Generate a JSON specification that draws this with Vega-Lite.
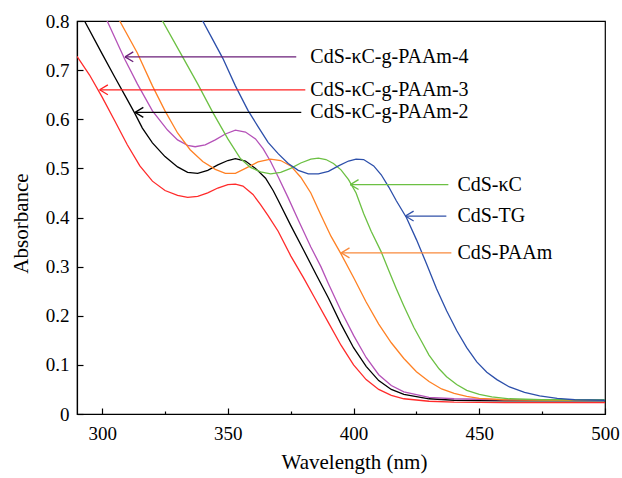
{
  "$schema": "https://vega.github.io/schema/vega-lite/v6.json",
  "width": 528,
  "height": 393,
  "autosize": {"type": "none"},
  "padding": {"left": 77, "top": 21, "right": 17, "bottom": 64},
  "background": "white",
  "config": {
    "view": {"stroke": "black", "strokeWidth": 1.2},
    "font": "'Liberation Serif', 'DejaVu Serif', serif",
    "axis": {
      "grid": false,
      "domainColor": "black",
      "domainWidth": 1.2,
      "tickColor": "black",
      "tickWidth": 1.2,
      "labelFont": "'Liberation Serif', 'DejaVu Serif', serif",
      "labelFontSize": 19,
      "labelColor": "black",
      "titleFont": "'Liberation Serif', 'DejaVu Serif', serif",
      "titleFontSize": 21,
      "titleFontWeight": "normal",
      "titleColor": "black"
    },
    "text": {"font": "'Liberation Serif', 'DejaVu Serif', serif"}
  },
  "datasets": {
    "curves": [
      {"s": "CdS-κC-g-PAAm-3", "wl": 290, "a": 0.728},
      {"s": "CdS-κC-g-PAAm-3", "wl": 295, "a": 0.690},
      {"s": "CdS-κC-g-PAAm-3", "wl": 300, "a": 0.645},
      {"s": "CdS-κC-g-PAAm-3", "wl": 305, "a": 0.597},
      {"s": "CdS-κC-g-PAAm-3", "wl": 310, "a": 0.548},
      {"s": "CdS-κC-g-PAAm-3", "wl": 315, "a": 0.505},
      {"s": "CdS-κC-g-PAAm-3", "wl": 320, "a": 0.474},
      {"s": "CdS-κC-g-PAAm-3", "wl": 325, "a": 0.455},
      {"s": "CdS-κC-g-PAAm-3", "wl": 330, "a": 0.445},
      {"s": "CdS-κC-g-PAAm-3", "wl": 334, "a": 0.441},
      {"s": "CdS-κC-g-PAAm-3", "wl": 338, "a": 0.443},
      {"s": "CdS-κC-g-PAAm-3", "wl": 342, "a": 0.450},
      {"s": "CdS-κC-g-PAAm-3", "wl": 346, "a": 0.460},
      {"s": "CdS-κC-g-PAAm-3", "wl": 350, "a": 0.467},
      {"s": "CdS-κC-g-PAAm-3", "wl": 353, "a": 0.468},
      {"s": "CdS-κC-g-PAAm-3", "wl": 356, "a": 0.464},
      {"s": "CdS-κC-g-PAAm-3", "wl": 360, "a": 0.447},
      {"s": "CdS-κC-g-PAAm-3", "wl": 363, "a": 0.426},
      {"s": "CdS-κC-g-PAAm-3", "wl": 366, "a": 0.404},
      {"s": "CdS-κC-g-PAAm-3", "wl": 370, "a": 0.372},
      {"s": "CdS-κC-g-PAAm-3", "wl": 375, "a": 0.322},
      {"s": "CdS-κC-g-PAAm-3", "wl": 380, "a": 0.278},
      {"s": "CdS-κC-g-PAAm-3", "wl": 385, "a": 0.232},
      {"s": "CdS-κC-g-PAAm-3", "wl": 390, "a": 0.186},
      {"s": "CdS-κC-g-PAAm-3", "wl": 395, "a": 0.140},
      {"s": "CdS-κC-g-PAAm-3", "wl": 400, "a": 0.100},
      {"s": "CdS-κC-g-PAAm-3", "wl": 405, "a": 0.070},
      {"s": "CdS-κC-g-PAAm-3", "wl": 410, "a": 0.050},
      {"s": "CdS-κC-g-PAAm-3", "wl": 415, "a": 0.038},
      {"s": "CdS-κC-g-PAAm-3", "wl": 420, "a": 0.031},
      {"s": "CdS-κC-g-PAAm-3", "wl": 430, "a": 0.026},
      {"s": "CdS-κC-g-PAAm-3", "wl": 440, "a": 0.024},
      {"s": "CdS-κC-g-PAAm-3", "wl": 460, "a": 0.023},
      {"s": "CdS-κC-g-PAAm-3", "wl": 500, "a": 0.023},

      {"s": "CdS-κC-g-PAAm-2", "wl": 290, "a": 0.830},
      {"s": "CdS-κC-g-PAAm-2", "wl": 293, "a": 0.800},
      {"s": "CdS-κC-g-PAAm-2", "wl": 300, "a": 0.733},
      {"s": "CdS-κC-g-PAAm-2", "wl": 305, "a": 0.686},
      {"s": "CdS-κC-g-PAAm-2", "wl": 310, "a": 0.640},
      {"s": "CdS-κC-g-PAAm-2", "wl": 313, "a": 0.612},
      {"s": "CdS-κC-g-PAAm-2", "wl": 316, "a": 0.582},
      {"s": "CdS-κC-g-PAAm-2", "wl": 320, "a": 0.552},
      {"s": "CdS-κC-g-PAAm-2", "wl": 325, "a": 0.524},
      {"s": "CdS-κC-g-PAAm-2", "wl": 330, "a": 0.503},
      {"s": "CdS-κC-g-PAAm-2", "wl": 334, "a": 0.492},
      {"s": "CdS-κC-g-PAAm-2", "wl": 338, "a": 0.490},
      {"s": "CdS-κC-g-PAAm-2", "wl": 342, "a": 0.496},
      {"s": "CdS-κC-g-PAAm-2", "wl": 346, "a": 0.507},
      {"s": "CdS-κC-g-PAAm-2", "wl": 350, "a": 0.516},
      {"s": "CdS-κC-g-PAAm-2", "wl": 353, "a": 0.520},
      {"s": "CdS-κC-g-PAAm-2", "wl": 357, "a": 0.515},
      {"s": "CdS-κC-g-PAAm-2", "wl": 361, "a": 0.500},
      {"s": "CdS-κC-g-PAAm-2", "wl": 365, "a": 0.480},
      {"s": "CdS-κC-g-PAAm-2", "wl": 368, "a": 0.455},
      {"s": "CdS-κC-g-PAAm-2", "wl": 370, "a": 0.435},
      {"s": "CdS-κC-g-PAAm-2", "wl": 375, "a": 0.384},
      {"s": "CdS-κC-g-PAAm-2", "wl": 380, "a": 0.335},
      {"s": "CdS-κC-g-PAAm-2", "wl": 385, "a": 0.285},
      {"s": "CdS-κC-g-PAAm-2", "wl": 390, "a": 0.236},
      {"s": "CdS-κC-g-PAAm-2", "wl": 395, "a": 0.183},
      {"s": "CdS-κC-g-PAAm-2", "wl": 400, "a": 0.135},
      {"s": "CdS-κC-g-PAAm-2", "wl": 405, "a": 0.097},
      {"s": "CdS-κC-g-PAAm-2", "wl": 410, "a": 0.068},
      {"s": "CdS-κC-g-PAAm-2", "wl": 415, "a": 0.050},
      {"s": "CdS-κC-g-PAAm-2", "wl": 420, "a": 0.040},
      {"s": "CdS-κC-g-PAAm-2", "wl": 430, "a": 0.031},
      {"s": "CdS-κC-g-PAAm-2", "wl": 440, "a": 0.028},
      {"s": "CdS-κC-g-PAAm-2", "wl": 460, "a": 0.027},
      {"s": "CdS-κC-g-PAAm-2", "wl": 500, "a": 0.027},

      {"s": "CdS-κC-g-PAAm-4", "wl": 290, "a": 0.940},
      {"s": "CdS-κC-g-PAAm-4", "wl": 296, "a": 0.868},
      {"s": "CdS-κC-g-PAAm-4", "wl": 302, "a": 0.800},
      {"s": "CdS-κC-g-PAAm-4", "wl": 309, "a": 0.722},
      {"s": "CdS-κC-g-PAAm-4", "wl": 314, "a": 0.672},
      {"s": "CdS-κC-g-PAAm-4", "wl": 320, "a": 0.617},
      {"s": "CdS-κC-g-PAAm-4", "wl": 326, "a": 0.578},
      {"s": "CdS-κC-g-PAAm-4", "wl": 330, "a": 0.558},
      {"s": "CdS-κC-g-PAAm-4", "wl": 334, "a": 0.547},
      {"s": "CdS-κC-g-PAAm-4", "wl": 337, "a": 0.544},
      {"s": "CdS-κC-g-PAAm-4", "wl": 341, "a": 0.548},
      {"s": "CdS-κC-g-PAAm-4", "wl": 345, "a": 0.558},
      {"s": "CdS-κC-g-PAAm-4", "wl": 349, "a": 0.570},
      {"s": "CdS-κC-g-PAAm-4", "wl": 353, "a": 0.578},
      {"s": "CdS-κC-g-PAAm-4", "wl": 357, "a": 0.574},
      {"s": "CdS-κC-g-PAAm-4", "wl": 361, "a": 0.560},
      {"s": "CdS-κC-g-PAAm-4", "wl": 364, "a": 0.540},
      {"s": "CdS-κC-g-PAAm-4", "wl": 367, "a": 0.514},
      {"s": "CdS-κC-g-PAAm-4", "wl": 370, "a": 0.483},
      {"s": "CdS-κC-g-PAAm-4", "wl": 374, "a": 0.440},
      {"s": "CdS-κC-g-PAAm-4", "wl": 378, "a": 0.395},
      {"s": "CdS-κC-g-PAAm-4", "wl": 383, "a": 0.340},
      {"s": "CdS-κC-g-PAAm-4", "wl": 387, "a": 0.300},
      {"s": "CdS-κC-g-PAAm-4", "wl": 390, "a": 0.265},
      {"s": "CdS-κC-g-PAAm-4", "wl": 395, "a": 0.210},
      {"s": "CdS-κC-g-PAAm-4", "wl": 400, "a": 0.160},
      {"s": "CdS-κC-g-PAAm-4", "wl": 405, "a": 0.115},
      {"s": "CdS-κC-g-PAAm-4", "wl": 410, "a": 0.080},
      {"s": "CdS-κC-g-PAAm-4", "wl": 415, "a": 0.058},
      {"s": "CdS-κC-g-PAAm-4", "wl": 420, "a": 0.045},
      {"s": "CdS-κC-g-PAAm-4", "wl": 430, "a": 0.034},
      {"s": "CdS-κC-g-PAAm-4", "wl": 440, "a": 0.031},
      {"s": "CdS-κC-g-PAAm-4", "wl": 460, "a": 0.029},
      {"s": "CdS-κC-g-PAAm-4", "wl": 500, "a": 0.029},

      {"s": "CdS-PAAm", "wl": 290, "a": 0.990},
      {"s": "CdS-PAAm", "wl": 300, "a": 0.880},
      {"s": "CdS-PAAm", "wl": 307, "a": 0.800},
      {"s": "CdS-PAAm", "wl": 314, "a": 0.735},
      {"s": "CdS-PAAm", "wl": 320, "a": 0.668},
      {"s": "CdS-PAAm", "wl": 325, "a": 0.617},
      {"s": "CdS-PAAm", "wl": 330, "a": 0.572},
      {"s": "CdS-PAAm", "wl": 335, "a": 0.538},
      {"s": "CdS-PAAm", "wl": 340, "a": 0.514},
      {"s": "CdS-PAAm", "wl": 345, "a": 0.498},
      {"s": "CdS-PAAm", "wl": 349, "a": 0.490},
      {"s": "CdS-PAAm", "wl": 353, "a": 0.490},
      {"s": "CdS-PAAm", "wl": 357, "a": 0.500},
      {"s": "CdS-PAAm", "wl": 362, "a": 0.513},
      {"s": "CdS-PAAm", "wl": 367, "a": 0.519},
      {"s": "CdS-PAAm", "wl": 371, "a": 0.516},
      {"s": "CdS-PAAm", "wl": 375, "a": 0.505},
      {"s": "CdS-PAAm", "wl": 379, "a": 0.482},
      {"s": "CdS-PAAm", "wl": 383, "a": 0.450},
      {"s": "CdS-PAAm", "wl": 387, "a": 0.405},
      {"s": "CdS-PAAm", "wl": 391, "a": 0.362},
      {"s": "CdS-PAAm", "wl": 395, "a": 0.326},
      {"s": "CdS-PAAm", "wl": 400, "a": 0.278},
      {"s": "CdS-PAAm", "wl": 405, "a": 0.228},
      {"s": "CdS-PAAm", "wl": 410, "a": 0.183},
      {"s": "CdS-PAAm", "wl": 415, "a": 0.145},
      {"s": "CdS-PAAm", "wl": 420, "a": 0.113},
      {"s": "CdS-PAAm", "wl": 425, "a": 0.086},
      {"s": "CdS-PAAm", "wl": 430, "a": 0.066},
      {"s": "CdS-PAAm", "wl": 435, "a": 0.051},
      {"s": "CdS-PAAm", "wl": 440, "a": 0.042},
      {"s": "CdS-PAAm", "wl": 445, "a": 0.036},
      {"s": "CdS-PAAm", "wl": 450, "a": 0.032},
      {"s": "CdS-PAAm", "wl": 460, "a": 0.029},
      {"s": "CdS-PAAm", "wl": 480, "a": 0.028},
      {"s": "CdS-PAAm", "wl": 500, "a": 0.028},

      {"s": "CdS-κC", "wl": 310, "a": 0.950},
      {"s": "CdS-κC", "wl": 317, "a": 0.875},
      {"s": "CdS-κC", "wl": 324, "a": 0.800},
      {"s": "CdS-κC", "wl": 331, "a": 0.736},
      {"s": "CdS-κC", "wl": 338, "a": 0.672},
      {"s": "CdS-κC", "wl": 344, "a": 0.614},
      {"s": "CdS-κC", "wl": 350, "a": 0.560},
      {"s": "CdS-κC", "wl": 355, "a": 0.520},
      {"s": "CdS-κC", "wl": 359, "a": 0.502},
      {"s": "CdS-κC", "wl": 363, "a": 0.493},
      {"s": "CdS-κC", "wl": 367, "a": 0.489},
      {"s": "CdS-κC", "wl": 371, "a": 0.492},
      {"s": "CdS-κC", "wl": 375, "a": 0.500},
      {"s": "CdS-κC", "wl": 379, "a": 0.511},
      {"s": "CdS-κC", "wl": 383, "a": 0.519},
      {"s": "CdS-κC", "wl": 386, "a": 0.521},
      {"s": "CdS-κC", "wl": 389, "a": 0.518},
      {"s": "CdS-κC", "wl": 392, "a": 0.510},
      {"s": "CdS-κC", "wl": 395, "a": 0.497},
      {"s": "CdS-κC", "wl": 398, "a": 0.477},
      {"s": "CdS-κC", "wl": 401, "a": 0.450},
      {"s": "CdS-κC", "wl": 404, "a": 0.408},
      {"s": "CdS-κC", "wl": 407, "a": 0.372},
      {"s": "CdS-κC", "wl": 411, "a": 0.330},
      {"s": "CdS-κC", "wl": 414, "a": 0.292},
      {"s": "CdS-κC", "wl": 417, "a": 0.255},
      {"s": "CdS-κC", "wl": 420, "a": 0.220},
      {"s": "CdS-κC", "wl": 424, "a": 0.176},
      {"s": "CdS-κC", "wl": 427, "a": 0.148},
      {"s": "CdS-κC", "wl": 430, "a": 0.120},
      {"s": "CdS-κC", "wl": 434, "a": 0.092},
      {"s": "CdS-κC", "wl": 437, "a": 0.076},
      {"s": "CdS-κC", "wl": 441, "a": 0.060},
      {"s": "CdS-κC", "wl": 445, "a": 0.048},
      {"s": "CdS-κC", "wl": 450, "a": 0.040},
      {"s": "CdS-κC", "wl": 455, "a": 0.035},
      {"s": "CdS-κC", "wl": 462, "a": 0.031},
      {"s": "CdS-κC", "wl": 475, "a": 0.029},
      {"s": "CdS-κC", "wl": 500, "a": 0.029},

      {"s": "CdS-TG", "wl": 330, "a": 0.895},
      {"s": "CdS-TG", "wl": 335, "a": 0.845},
      {"s": "CdS-TG", "wl": 340, "a": 0.800},
      {"s": "CdS-TG", "wl": 344, "a": 0.762},
      {"s": "CdS-TG", "wl": 348, "a": 0.724},
      {"s": "CdS-TG", "wl": 353, "a": 0.668},
      {"s": "CdS-TG", "wl": 358, "a": 0.618},
      {"s": "CdS-TG", "wl": 362, "a": 0.585},
      {"s": "CdS-TG", "wl": 366, "a": 0.553},
      {"s": "CdS-TG", "wl": 370, "a": 0.530},
      {"s": "CdS-TG", "wl": 374, "a": 0.510},
      {"s": "CdS-TG", "wl": 378, "a": 0.496},
      {"s": "CdS-TG", "wl": 382, "a": 0.489},
      {"s": "CdS-TG", "wl": 386, "a": 0.489},
      {"s": "CdS-TG", "wl": 390, "a": 0.494},
      {"s": "CdS-TG", "wl": 394, "a": 0.505},
      {"s": "CdS-TG", "wl": 398, "a": 0.515},
      {"s": "CdS-TG", "wl": 401, "a": 0.519},
      {"s": "CdS-TG", "wl": 404, "a": 0.518},
      {"s": "CdS-TG", "wl": 408, "a": 0.505},
      {"s": "CdS-TG", "wl": 411, "a": 0.487},
      {"s": "CdS-TG", "wl": 414, "a": 0.462},
      {"s": "CdS-TG", "wl": 417, "a": 0.434},
      {"s": "CdS-TG", "wl": 421, "a": 0.400},
      {"s": "CdS-TG", "wl": 425, "a": 0.355},
      {"s": "CdS-TG", "wl": 429, "a": 0.306},
      {"s": "CdS-TG", "wl": 433, "a": 0.255},
      {"s": "CdS-TG", "wl": 437, "a": 0.210},
      {"s": "CdS-TG", "wl": 441, "a": 0.170},
      {"s": "CdS-TG", "wl": 445, "a": 0.135},
      {"s": "CdS-TG", "wl": 449, "a": 0.106},
      {"s": "CdS-TG", "wl": 453, "a": 0.085},
      {"s": "CdS-TG", "wl": 457, "a": 0.070},
      {"s": "CdS-TG", "wl": 462, "a": 0.055},
      {"s": "CdS-TG", "wl": 468, "a": 0.044},
      {"s": "CdS-TG", "wl": 474, "a": 0.037},
      {"s": "CdS-TG", "wl": 481, "a": 0.032},
      {"s": "CdS-TG", "wl": 488, "a": 0.029},
      {"s": "CdS-TG", "wl": 500, "a": 0.028}
    ],
    "notes": [
      {"label": "CdS-κC-g-PAAm-4", "tail": 377.2, "tip": 309.1, "a": 0.727, "text_wl": 382.8},
      {"label": "CdS-κC-g-PAAm-3", "tail": 380.8, "tip": 299.0, "a": 0.660, "text_wl": 382.8},
      {"label": "CdS-κC-g-PAAm-2", "tail": 379.2, "tip": 313.1, "a": 0.614, "text_wl": 382.8},
      {"label": "CdS-κC", "tail": 437.7, "tip": 398.7, "a": 0.467, "text_wl": 441.3},
      {"label": "CdS-TG", "tail": 436.9, "tip": 420.6, "a": 0.403, "text_wl": 441.3},
      {"label": "CdS-PAAm", "tail": 438.9, "tip": 395.1, "a": 0.328, "text_wl": 441.3}
    ]
  },
  "resolve": {"scale": {"color": "independent"}},
  "layer": [
    {
      "data": {"name": "curves"},
      "mark": {"type": "line", "clip": true, "strokeWidth": 1.3},
      "encoding": {
        "x": {
          "field": "wl", "type": "quantitative",
          "scale": {"domain": [290, 500], "nice": false, "zero": false},
          "axis": {
            "title": "Wavelength (nm)",
            "values": [300, 325, 350, 375, 400, 425, 450, 475, 500],
            "labelExpr": "datum.value % 50 === 0 ? datum.label : ''",
            "tickSize": {"condition": {"test": "datum.value % 50 === 0", "value": -6}, "value": -3},
            "labelPadding": 16,
            "labelFlush": false,
            "titlePadding": 8,
            "titleX": 277
          }
        },
        "y": {
          "field": "a", "type": "quantitative",
          "scale": {"domain": [0, 0.8], "nice": false},
          "axis": {
            "title": "Absorbance",
            "values": [0, 0.05, 0.1, 0.15, 0.2, 0.25, 0.3, 0.35, 0.4, 0.45, 0.5, 0.55, 0.6, 0.65, 0.7, 0.75, 0.8],
            "labelExpr": "round(datum.value * 100) % 10 === 0 ? format(datum.value, '.1~f') : ''",
            "tickSize": {"condition": {"test": "round(datum.value * 100) % 10 === 0", "value": -6}, "value": -3},
            "labelPadding": 14,
            "labelFlush": false,
            "titlePadding": 14,
            "titleY": 202
          }
        },
        "color": {
          "field": "s", "type": "nominal", "legend": null,
          "scale": {
            "domain": ["CdS-κC-g-PAAm-4", "CdS-κC-g-PAAm-3", "CdS-κC-g-PAAm-2", "CdS-κC", "CdS-TG", "CdS-PAAm"],
            "range": ["#b552b8", "#ff2b2b", "#000000", "#6cc043", "#2c4faa", "#ff8124"]
          }
        },
        "detail": {"field": "s"}
      }
    },
    {
      "data": {"name": "notes"},
      "mark": {"type": "rule", "strokeWidth": 1.3},
      "encoding": {
        "x": {"field": "tail", "type": "quantitative"},
        "x2": {"field": "tip"},
        "y": {"field": "a", "type": "quantitative"},
        "color": {
          "field": "label", "type": "nominal", "legend": null,
          "scale": {
            "domain": ["CdS-κC-g-PAAm-4", "CdS-κC-g-PAAm-3", "CdS-κC-g-PAAm-2", "CdS-κC", "CdS-TG", "CdS-PAAm"],
            "range": ["#6a1e78", "#ff2020", "#000000", "#6cc043", "#3050a8", "#f88a3c"]
          }
        }
      }
    },
    {
      "data": {"name": "notes"},
      "mark": {"type": "point", "shape": "M0,0L1.5,-0.9M0,0L1.5,0.9", "filled": false, "size": 121, "strokeWidth": 1.3, "opacity": 1},
      "encoding": {
        "x": {"field": "tip", "type": "quantitative"},
        "y": {"field": "a", "type": "quantitative"},
        "color": {
          "field": "label", "type": "nominal", "legend": null,
          "scale": {
            "domain": ["CdS-κC-g-PAAm-4", "CdS-κC-g-PAAm-3", "CdS-κC-g-PAAm-2", "CdS-κC", "CdS-TG", "CdS-PAAm"],
            "range": ["#6a1e78", "#ff2020", "#000000", "#6cc043", "#3050a8", "#f88a3c"]
          }
        }
      }
    },
    {
      "data": {"name": "notes"},
      "mark": {"type": "text", "align": "left", "baseline": "middle", "fontSize": 20, "font": "'Liberation Serif', 'DejaVu Serif', serif", "color": "black"},
      "encoding": {
        "x": {"field": "text_wl", "type": "quantitative"},
        "y": {"field": "a", "type": "quantitative"},
        "text": {"field": "label"}
      }
    }
  ]
}
